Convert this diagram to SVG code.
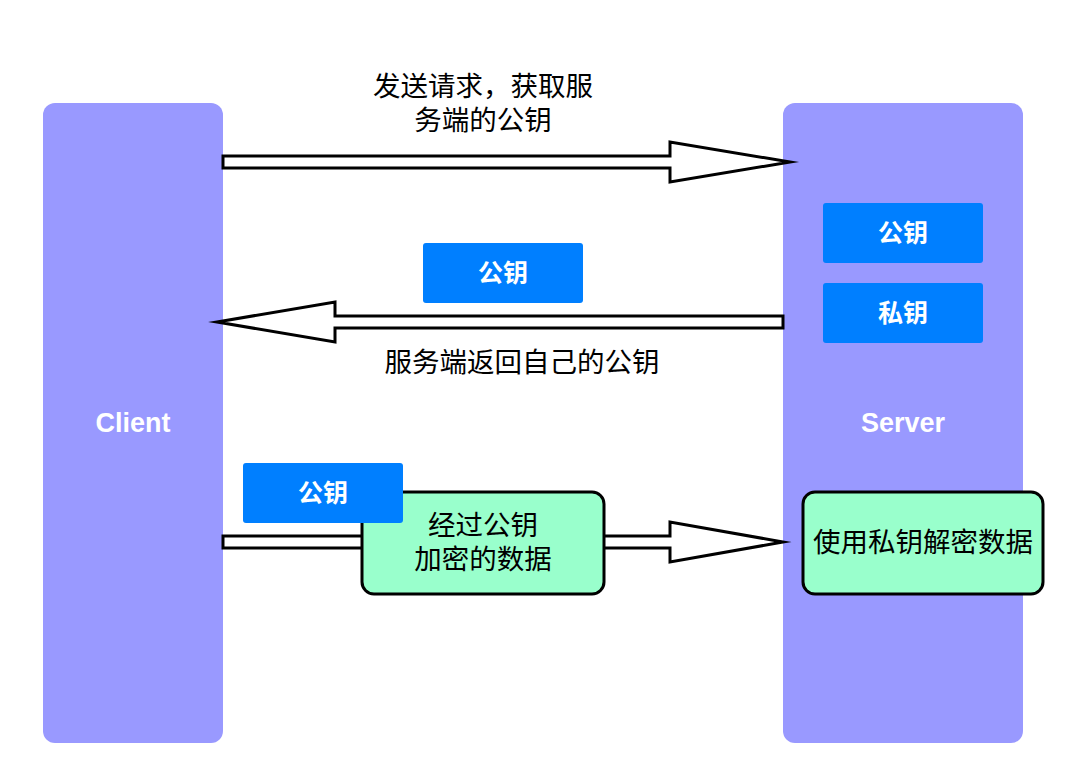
<svg xmlns="http://www.w3.org/2000/svg" width="1084" height="784" viewBox="0 0 1084 784">
<style>
.lane{fill:#9999FF;}
.key{fill:#007FFF;}
.keyt{font-family:"Liberation Sans","Noto Sans CJK SC",sans-serif;font-size:25px;font-weight:bold;fill:#fff;text-anchor:middle;}
.lanet{font-family:"Liberation Sans","Noto Sans CJK SC",sans-serif;font-size:27px;font-weight:bold;fill:#fff;text-anchor:middle;}
.lbl{font-family:"Noto Sans CJK SC",sans-serif;font-size:27.5px;fill:#000;text-anchor:middle;}
.arr{fill:#fff;stroke:#000;stroke-width:3;stroke-miterlimit:10;}
.proc{fill:#99FFCC;stroke:#000;stroke-width:3;}
</style>
<rect width="1084" height="784" fill="#fff"/>
<g id="client"><rect class="lane" x="43" y="103" width="180" height="640" rx="12"/><text class="lanet" x="133" y="432">Client</text></g>
<g id="server"><rect class="lane" x="783" y="103" width="240" height="640" rx="12"/><text class="lanet" x="903" y="432">Server</text></g>
<g id="connectors">
<path class="arr" d="M223,156 L670,156 L670,142 L790,162 L670,182 L670,168 L223,168 Z"/>
<path class="arr" d="M783,316 L335,316 L335,302 L217,322 L335,342 L335,328 L783,328 Z"/>
<path class="arr" d="M223,536 L670,536 L670,522 L783,542 L670,562 L670,548 L223,548 Z"/>
</g>
<g id="label-request"><text class="lbl" x="483" y="96">发送请求，获取服</text><text class="lbl" x="483" y="130">务端的公钥</text></g>
<g id="label-return"><text class="lbl" x="522" y="372">服务端返回自己的公钥</text></g>
<g id="server-pubkey"><rect class="key" x="823" y="203" width="160" height="60" rx="3"/><text class="keyt" x="903" y="242">公钥</text></g>
<g id="server-privkey"><rect class="key" x="823" y="283" width="160" height="60" rx="3"/><text class="keyt" x="903" y="322">私钥</text></g>
<g id="mid-pubkey"><rect class="key" x="423" y="243" width="160" height="60" rx="3"/><text class="keyt" x="503" y="282">公钥</text></g>
<g id="encrypted"><rect class="proc" x="362" y="492" width="242" height="102" rx="12"/><text class="lbl" x="483" y="535">经过公钥</text><text class="lbl" x="483" y="569">加密的数据</text></g>
<g id="client-pubkey"><rect class="key" x="243" y="463" width="160" height="60" rx="3"/><text class="keyt" x="323" y="502">公钥</text></g>
<g id="decrypt"><rect class="proc" x="803" y="492" width="240" height="102" rx="12"/><text class="lbl" x="923" y="552">使用私钥解密数据</text></g>
</svg>
